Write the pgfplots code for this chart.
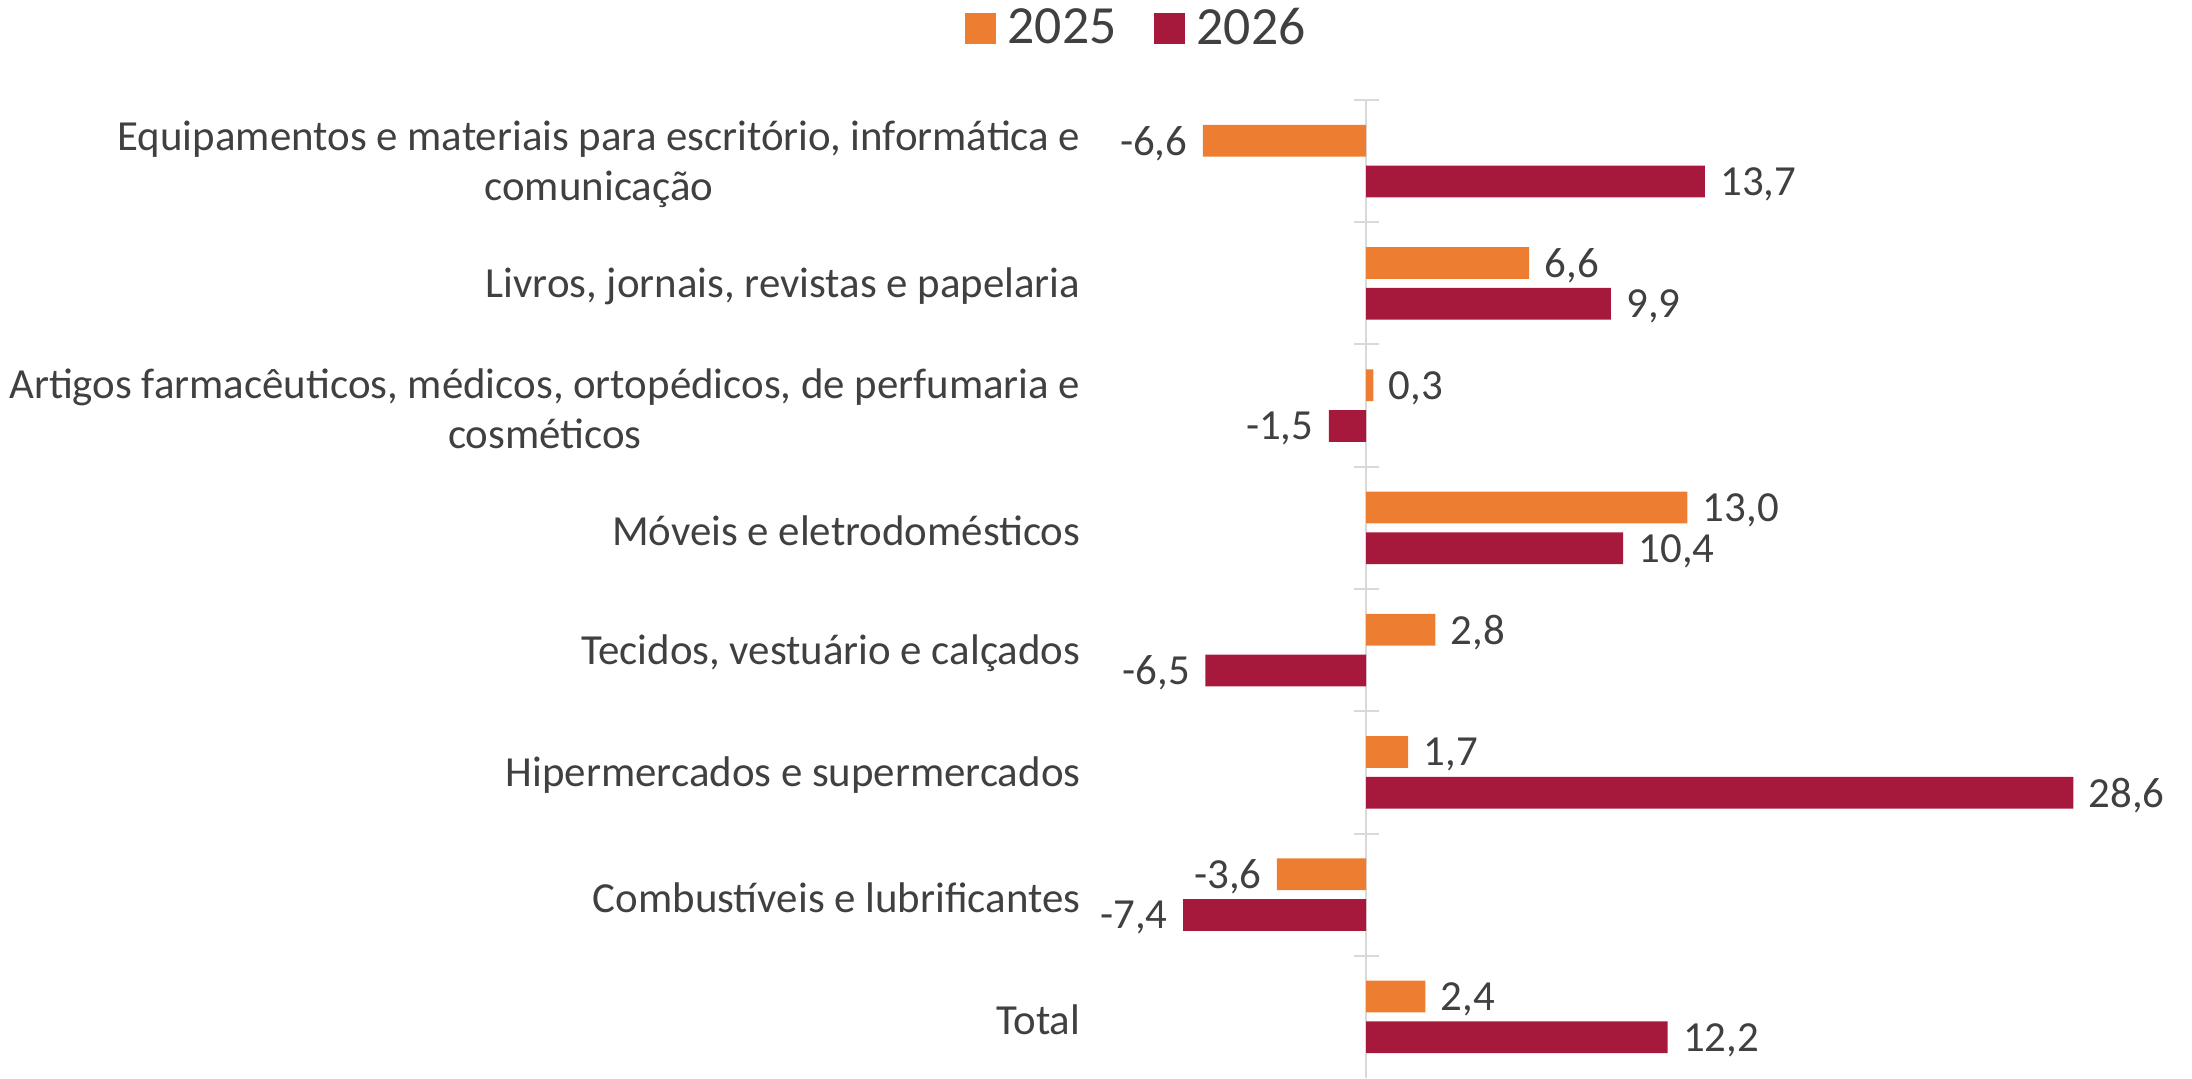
\documentclass[border=0pt]{standalone}
\usepackage{pgfplots}
\pgfplotsset{compat=1.18}
\usepackage{fontspec}
\setmainfont{Carlito}
\definecolor{c25}{HTML}{ED7D31}
\definecolor{c26}{HTML}{A6193C}
\definecolor{txt}{HTML}{404040}
\definecolor{axg}{HTML}{D9D9D9}
\begin{document}
\begin{tikzpicture}[x=1pt,y=1pt]
\useasboundingbox (0,0) rectangle (876.8,431.2);
\begin{axis}[
  at={(437.6pt,0pt)}, anchor=south west,
  scale only axis, width=415.44pt, height=391.2pt,
  xmin=-11, xmax=31, ymin=-0.5, ymax=7.5,
  enlargelimits=false, clip=false,
  axis x line=none,
  axis y line*=left,
  y axis line style={draw=none},
  ytick style={draw=none},
  ytick={0,...,7},
  yticklabels={
    {Total},
    {Combustíveis e lubrificantes},
    {Hipermercados e supermercados},
    {Tecidos, vestuário e calçados},
    {Móveis e eletrodomésticos},
    {Artigos farmacêuticos, médicos, ortopédicos, de perfumaria e\\cosméticos},
    {Livros, jornais, revistas e papelaria},
    {Equipamentos e materiais para escritório, informática e\\comunicação}},
  yticklabel style={align=center, anchor=east, inner sep=0pt, xshift=-1pt, yshift=-1.2pt,
    font=\fontsize{17.15}{20}\selectfont, text=txt},
  xbar, bar width=0.26,
  point meta=explicit symbolic,
  visualization depends on={rawx \as \rawx},
  nodes near coords,
  every node near coord/.append style={font=\fontsize{17.15}{20}\selectfont, text=txt,
    inner xsep=6pt, inner ysep=0pt, yshift=-1.1pt,
    /utils/exec={\ifdim\rawx pt<0pt \gdef\myanch{east}\else\gdef\myanch{west}\fi},
    anchor=\myanch},
  legend style={at={(axis description cs:0.042,1.0736)}, anchor=center, draw=none, fill=none,
    legend columns=2, font=\fontsize{21.5}{24}\selectfont, text=txt,
    /tikz/every even column/.append style={column sep=12.8pt}},
]
\draw[axg, line width=0.8pt] (axis cs:0,-0.5) -- (axis cs:0,7.5);
\pgfplotsinvokeforeach{0.5,1.5,2.5,3.5,4.5,5.5,6.5,7.5}{
  \draw[axg, line width=0.8pt] ([xshift=-5pt]axis cs:0,#1) -- ([xshift=5pt]axis cs:0,#1);
}
\addplot[fill=c25, draw=none, bar shift=0.166,
  legend image code/.code={\fill[c25] (0pt,-6.2pt) rectangle (12.4pt,6.2pt); \path (15.2pt,0pt);}]
  coordinates {
  (-6.6,7) [{-6,6}]
  (6.6,6) [{6,6}]
  (0.3,5) [{0,3}]
  (13.0,4) [{13,0}]
  (2.8,3) [{2,8}]
  (1.7,2) [{1,7}]
  (-3.6,1) [{-3,6}]
  (2.4,0) [{2,4}]
  };
\addlegendentry{2025}
\addplot[fill=c26, draw=none, bar shift=-0.166,
  legend image code/.code={\fill[c26] (0pt,-6.2pt) rectangle (12.4pt,6.2pt); \path (15.2pt,0pt);}]
  coordinates {
  (13.7,7) [{13,7}]
  (9.9,6) [{9,9}]
  (-1.5,5) [{-1,5}]
  (10.4,4) [{10,4}]
  (-6.5,3) [{-6,5}]
  (28.6,2) [{28,6}]
  (-7.4,1) [{-7,4}]
  (12.2,0) [{12,2}]
  };
\addlegendentry{2026}
\end{axis}
\end{tikzpicture}
\end{document}
